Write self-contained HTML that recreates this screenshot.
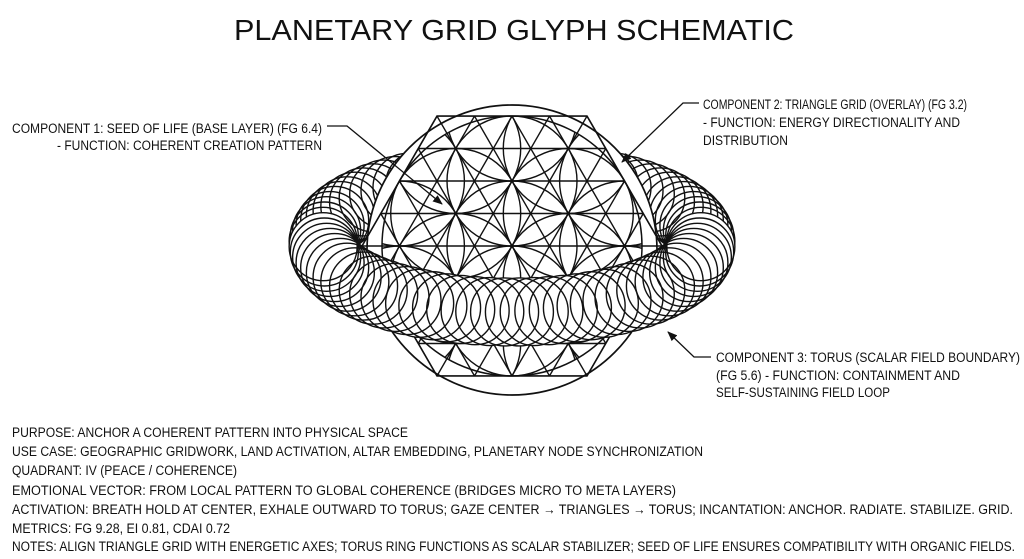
<!DOCTYPE html>
<html><head><meta charset="utf-8"><style>
html,body{margin:0;padding:0;background:#fff;overflow:hidden;width:1024px;height:559px;}
svg{display:block;}
text{font-family:"Liberation Sans",sans-serif;fill:#111;}
</style></head><body>
<svg id="s" width="1024" height="559" viewBox="0 0 1024 559" xmlns="http://www.w3.org/2000/svg">
<defs>
<clipPath id="hexclip"><polygon points="362,246 437,116 587,116 662,246 587,376 437,376"/></clipPath>
<clipPath id="seedclip"><circle cx="512" cy="246" r="130"/></clipPath>
<marker id="ah" markerWidth="10" markerHeight="8" refX="9" refY="4" orient="auto" markerUnits="userSpaceOnUse"><path d="M0,0 L10,4 L0,8 z" fill="#111"/></marker>
</defs>
<text x="234" y="40" font-size="29" textLength="560" lengthAdjust="spacingAndGlyphs">PLANETARY GRID GLYPH SCHEMATIC</text>
<g id="back" fill="none" stroke="#111" stroke-width="1.4"></g>
<circle cx="512" cy="250" r="145" fill="#fff" stroke="#111" stroke-width="1.7"/>
<circle cx="512" cy="246" r="130" fill="none" stroke="#111" stroke-width="1.5"/>
<g id="seed" clip-path="url(#seedclip)" fill="none" stroke="#111" stroke-width="1.4"></g>
<g id="grid" clip-path="url(#hexclip)" stroke="#111" stroke-width="1.4"></g>
<polygon points="362,246 437,116 587,116 662,246 587,376 437,376" fill="none" stroke="#111" stroke-width="1.6"/>
<g id="frontfill" fill="#fff" stroke="none"></g>
<g id="front" fill="none" stroke="#111" stroke-width="1.4"></g>
<g stroke="#111" stroke-width="1.3" fill="none">
<polyline points="327,126 347,126 442,204" marker-end="url(#ah)"/>
<polyline points="699,103 683,103 622,162" marker-end="url(#ah)"/>
<polyline points="711,357 694,357 668,332" marker-end="url(#ah)"/>
</g>
<g font-size="13.5">
<text x="12" y="133" textLength="310" lengthAdjust="spacingAndGlyphs">COMPONENT 1: SEED OF LIFE (BASE LAYER) (FG 6.4)</text>
<text x="57" y="150" textLength="265" lengthAdjust="spacingAndGlyphs">- FUNCTION: COHERENT CREATION PATTERN</text>
<text x="703" y="109" textLength="264" lengthAdjust="spacingAndGlyphs">COMPONENT 2: TRIANGLE GRID (OVERLAY) (FG 3.2)</text>
<text x="703" y="127" textLength="257" lengthAdjust="spacingAndGlyphs">- FUNCTION: ENERGY DIRECTIONALITY AND</text>
<text x="703" y="145" textLength="85" lengthAdjust="spacingAndGlyphs">DISTRIBUTION</text>
<text x="716" y="362" textLength="304" lengthAdjust="spacingAndGlyphs">COMPONENT 3: TORUS (SCALAR FIELD BOUNDARY)</text>
<text x="716" y="380" textLength="244" lengthAdjust="spacingAndGlyphs">(FG 5.6) - FUNCTION: CONTAINMENT AND</text>
<text x="716" y="397" textLength="174" lengthAdjust="spacingAndGlyphs">SELF-SUSTAINING FIELD LOOP</text>
<text x="12" y="437" textLength="396" lengthAdjust="spacingAndGlyphs">PURPOSE: ANCHOR A COHERENT PATTERN INTO PHYSICAL SPACE</text>
<text x="12" y="456" textLength="691" lengthAdjust="spacingAndGlyphs">USE CASE: GEOGRAPHIC GRIDWORK, LAND ACTIVATION, ALTAR EMBEDDING, PLANETARY NODE SYNCHRONIZATION</text>
<text x="12" y="475" textLength="225" lengthAdjust="spacingAndGlyphs">QUADRANT: IV (PEACE / COHERENCE)</text>
<text x="12" y="495" textLength="664" lengthAdjust="spacingAndGlyphs">EMOTIONAL VECTOR: FROM LOCAL PATTERN TO GLOBAL COHERENCE (BRIDGES MICRO TO META LAYERS)</text>
<text x="12" y="514" textLength="1001" lengthAdjust="spacingAndGlyphs">ACTIVATION: BREATH HOLD AT CENTER, EXHALE OUTWARD TO TORUS; GAZE CENTER → TRIANGLES → TORUS; INCANTATION: ANCHOR. RADIATE. STABILIZE. GRID.</text>
<text x="12" y="533" textLength="218" lengthAdjust="spacingAndGlyphs">METRICS: FG 9.28, EI 0.81, CDAI 0.72</text>
<text x="12" y="551" textLength="1003" lengthAdjust="spacingAndGlyphs">NOTES: ALIGN TRIANGLE GRID WITH ENERGETIC AXES; TORUS RING FUNCTIONS AS SCALAR STABILIZER; SEED OF LIFE ENSURES COMPATIBILITY WITH ORGANIC FIELDS.</text>
</g>
</svg>
<script>
(function(){
var NS="http://www.w3.org/2000/svg";
function el(p,n,a){var e=document.createElementNS(NS,n);for(var k in a)e.setAttribute(k,a[k]);p.appendChild(e);return e;}
var cx=512,cy=246;
var seed=document.getElementById('seed'),R=65,pts=[[0,0]];
for(var k=0;k<6;k++){var a=(90+60*k)*Math.PI/180;pts.push([R*Math.cos(a),R*Math.sin(a)]);pts.push([2*R*Math.cos(a),2*R*Math.sin(a)]);
var b=(60*k)*Math.PI/180;pts.push([R*Math.sqrt(3)*Math.cos(b),R*Math.sqrt(3)*Math.sin(b)]);}
pts.forEach(function(p){el(seed,'circle',{cx:cx+p[0],cy:cy+p[1],r:R});});
var g=document.getElementById('grid'),h=32.5,s=37.5,L=400;
for(var j=-4;j<=4;j++)el(g,'line',{x1:300,y1:cy+j*h,x2:724,y2:cy+j*h});
for(var m=-10;m<=10;m++){var x0=cx+m*s;
el(g,'line',{x1:x0-0.5*L,y1:cy-0.866*L,x2:x0+0.5*L,y2:cy+0.866*L});
el(g,'line',{x1:x0+0.5*L,y1:cy-0.866*L,x2:x0-0.5*L,y2:cy+0.866*L});}
var back=document.getElementById('back'),ff=document.getElementById('frontfill'),fr=document.getElementById('front');
var tx=512,ty=244,rx=189,ry=68,N=80,front=[];
for(var i=0;i<N;i++){var t=2*Math.PI*(i+0.5)/N,X=tx+rx*Math.cos(t),Y=ty+ry*Math.sin(t),r=34;
if(Math.sin(t)<0)el(back,'circle',{cx:X,cy:Y,r:r});else front.push([X,Y,r]);}
front.forEach(function(c){el(ff,'circle',{cx:c[0],cy:c[1],r:c[2]});el(fr,'circle',{cx:c[0],cy:c[1],r:c[2]});});
})();
</script>
</body></html>
